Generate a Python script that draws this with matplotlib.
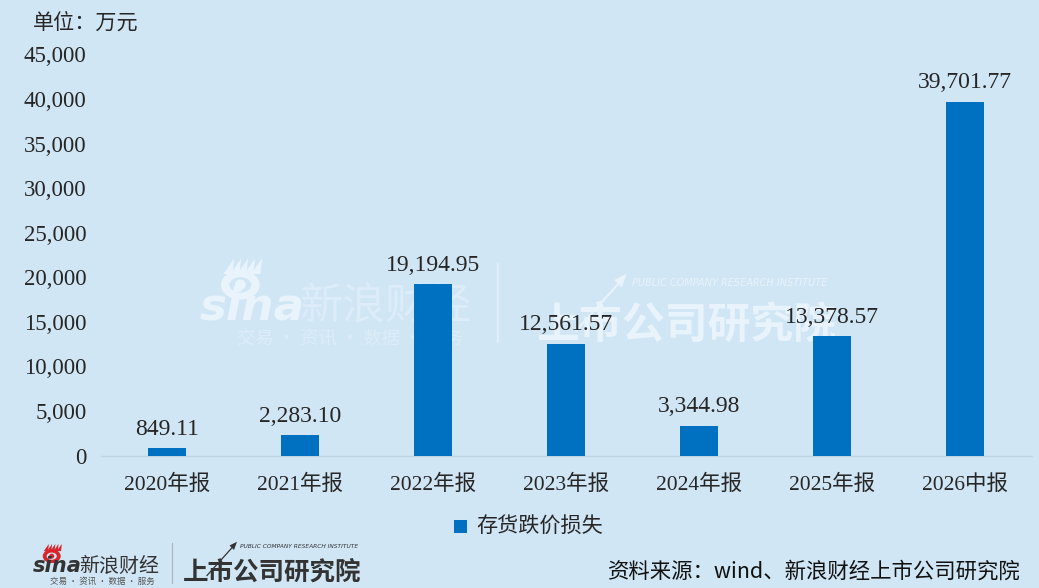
"""存货跌价损失柱状图"""
import matplotlib
matplotlib.use("Agg")
import matplotlib.pyplot as plt
from matplotlib.patches import Circle, Ellipse, Polygon
from matplotlib.lines import Line2D

periods = ["2020年报", "2021年报", "2022年报", "2023年报", "2024年报", "2025年报", "2026中报"]
values = [849.11, 2283.10, 19194.95, 12561.57, 3344.98, 13378.57, 39701.77]
yticks = [0, 5000, 10000, 15000, 20000, 25000, 30000, 35000, 40000, 45000]
series_name = "存货跌价损失"
unit_text = "单位：万元"
source_text = "资料来源：wind、新浪财经上市公司研究院"

W, H = 1039, 588
BG = "#D0E6F5"
BAR = "#0070C0"
TXT = "#262626"
CJK = ["Noto Sans CJK SC", "DejaVu Sans"]
NUM = ["Liberation Serif", "Noto Sans CJK SC"]

fig = plt.figure(figsize=(W / 100, H / 100), dpi=100, facecolor=BG)
# 全图像素坐标层，放水印和 logo
bg = fig.add_axes([0, 0, 1, 1], zorder=0)
bg.set_xlim(0, W)
bg.set_ylim(H, 0)
bg.axis('off')


def logo(x, y, scale, c1, c2, c3, eye):
    """sina 标志，x, y 为 sina 字样左下角"""
    bg.text(x, y, "sina", fontsize=21 * scale, family="DejaVu Sans", fontweight='bold',
            style='italic', color=c1, ha='left', va='baseline')
    cx, cy = x + 26 * scale, y - 22 * scale
    bg.add_patch(Ellipse((cx, cy), 25 * scale, 19 * scale, fc=eye, ec='none'))
    bg.add_patch(Ellipse((cx, cy), 14 * scale, 10 * scale, fc=BG, ec='none'))
    bg.add_patch(Circle((cx, cy), 3.5 * scale, fc=eye, ec='none'))
    for i in range(5):
        dx = (-8 + 4.5 * i) * scale
        bg.add_patch(Polygon([(cx + dx - 3 * scale, cy - 7 * scale),
                              (cx + dx + 3 * scale, cy - 7 * scale),
                              (cx + dx + 4 * scale, cy - 17 * scale)],
                             fc=eye, ec='none'))
    bg.text(x + 64 * scale, y, "新浪财经", fontsize=20 * scale, family=CJK, style='italic',
            color=c2, ha='left', va='baseline')
    bg.text(x + 24 * scale, y + 13 * scale, "交易 · 资讯 · 数据 · 服务", fontsize=8.5 * scale,
            family=CJK, color=c3, ha='left', va='center')


def brand(x, y, scale, color):
    """上市公司研究院 标志，x, y 为文字左下角"""
    bg.text(x, y, "上市公司研究院", fontsize=24.5 * scale, family=CJK, fontweight='black',
            color=color, ha='left', va='baseline')
    bg.text(x + 76 * scale, y - 44 * scale, "PUBLIC COMPANY RESEARCH INSTITUTE", fontsize=5.6 * scale,
            family="DejaVu Sans", style='italic', color=color, ha='left', va='center')
    bg.add_line(Line2D([x + 32 * scale, x + 68 * scale], [y - 6 * scale, y - 46 * scale],
                       color=color, lw=1.2 * scale))
    bg.add_patch(Polygon([(x + 72 * scale, y - 51 * scale), (x + 62 * scale, y - 46 * scale),
                          (x + 68 * scale, y - 40 * scale)], fc=color, ec='none'))


# 水印
logo(200, 319, 1.55, "#E8F3FB", "#DCECF8", "#DCECF8", "#E8F3FB")
bg.add_line(Line2D([498, 498], [264, 342], color="#E3F0FA", lw=1.2))
brand(536, 338, 1.26, "#E8F3FB")

# 页脚 logo
logo(33, 572, 0.72, "#333333", "#333333", "#555555", "#D9262C")
bg.add_line(Line2D([172, 172], [543, 583], color="#AAB4BC", lw=0.8))
brand(183, 580, 0.75, "#333333")

# 主图
ax = fig.add_axes([100.5 / W, 1 - 455.5 / H, 931 / W, 401 / H], zorder=1)
ax.patch.set_alpha(0)
x = range(len(periods))
ax.bar(x, values, width=38 / 133, color=BAR, label=series_name, zorder=3)
ax.set_xlim(-0.5, 6.5)
ax.set_ylim(0, 45000)

for s in ['top', 'left', 'right']:
    ax.spines[s].set_visible(False)
ax.spines['bottom'].set_color("#BFD4E4")
ax.spines['bottom'].set_linewidth(1)

ax.set_yticks(yticks)
ax.set_yticklabels([f"{v:,}" for v in yticks], family=NUM, fontsize=16.5, color=TXT)
ax.set_xticks(list(x))
ax.set_xticklabels(periods, family=NUM, fontsize=15.5, color=TXT)
ax.tick_params(axis='both', length=0)
ax.tick_params(axis='y', pad=10)
ax.tick_params(axis='x', pad=14)

for i, v in enumerate(values):
    ax.annotate(f"{v:,.2f}", (i, v), xytext=(0, 6), textcoords='offset points',
                ha='center', va='bottom', family=NUM, fontsize=17, color=TXT, zorder=5)

# 图例
bg.add_patch(plt.Rectangle((454, 520), 13, 13, fc=BAR, ec='none'))
fig.text(476 / W, 1 - 527 / H, series_name, family=CJK, fontsize=15.2, color=TXT,
         ha='left', va='center', zorder=3)

fig.text(33 / W, 1 - 24 / H, unit_text, family=CJK, fontsize=15.2, color=TXT,
         ha='left', va='center', zorder=3)
fig.text(1021 / W, 1 - 572 / H, source_text, family=CJK, fontsize=15.4, color="#111111",
         ha='right', va='center', zorder=3)

fig.savefig("out.png", dpi=100, facecolor=BG)
plt.close()
